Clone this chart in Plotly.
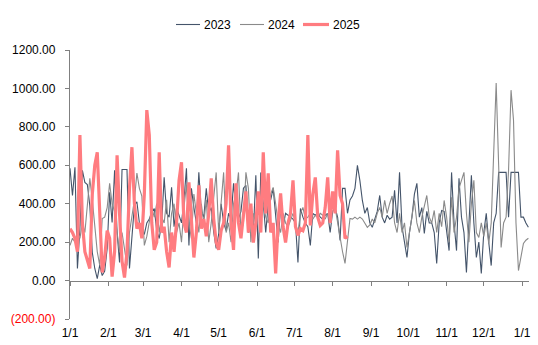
import plotly.graph_objects as go

STEP_DAYS = 2

month_start_days = [0, 31, 59, 90, 120, 151, 181, 212, 243, 273, 304, 334, 365]
month_labels = ["1/1", "2/1", "3/1", "4/1", "5/1", "6/1", "7/1", "8/1", "9/1", "10/1", "11/1", "12/1", "1/1"]

y_ticks = [-200, 0, 200, 400, 600, 800, 1000, 1200]

v2023 = [
    584, 443, 590, 63, 271, 574, 511, 500, 390, 146,
    63, 10, 80, 26, 50, 167, 459, 302, 574, 250,
    94, 578, 578, 578, 63, 235, 391, 410, 300, 271,
    240, 300, 320, 355, 375, 260, 219, 300, 537, 350,
    330, 485, 280, 380, 340, 300, 420, 584, 183, 480,
    380, 300, 563, 360, 330, 480, 350, 380, 250, 167,
    240, 400, 300, 260, 350, 320, 506, 380, 320, 360,
    480, 496, 250, 330, 250, 548, 115, 563, 400, 250,
    400, 420, 480, 330, 198, 380, 280, 350, 340, 330,
    320, 300, 94, 375, 330, 300, 280, 183, 350, 340,
    350, 330, 320, 340, 350, 250, 360, 380, 330, 209,
    480, 480, 350, 420, 440, 480, 600, 520, 417, 350,
    380, 300, 277, 320, 360, 443, 330, 300, 340, 320,
    330, 470, 300, 563, 280, 200, 120, 250, 330, 450,
    506, 330, 380, 245, 360, 300, 300, 250, 89, 300,
    365, 360, 250, 156, 563, 300, 156, 532, 330, 250,
    42, 300, 548, 300, 120, 200, 37, 250, 350, 200,
    78, 300, 350, 563, 563, 563, 563, 330, 563, 563,
    563, 563, 330, 330, 300, 277,
]

v2024 = [
    183, 220, 200, 250, 220, 300, 250, 400, 532, 420,
    300, 150, 80, 323, 330, 380, 506, 400, 360, 250,
    146, 250, 160, 78, 250, 350, 420, 560, 480, 440,
    183, 230, 300, 380, 330, 400, 250, 330, 300, 420,
    200, 350, 400, 250, 300, 200, 380, 500, 300, 220,
    450, 350, 250, 400, 300, 420, 200, 300, 450, 563,
    250, 400, 563, 250, 300, 200, 400, 450, 563, 250,
    300, 563, 480, 200, 350, 300, 400, 300, 400, 330,
    300, 450, 485, 400, 300, 250, 350, 300, 280, 313,
    350, 300, 250, 350, 381, 320, 330, 350, 320, 340,
    330, 350, 340, 320, 350, 330, 360, 380, 300, 209,
    150, 89, 200, 323, 320, 330, 320, 330, 320, 300,
    277, 290, 320, 300, 350, 381, 330, 417, 350, 400,
    440, 300, 250, 350, 250, 300, 172, 250, 330, 417,
    300, 250, 330, 380, 443, 330, 300, 365, 250, 350,
    280, 417, 330, 200, 433, 250, 330, 480, 522, 563,
    350, 200, 400, 522, 250, 224, 300, 230, 300, 193,
    300, 642, 1028, 600, 172, 300, 330, 574, 991, 835,
    300, 52, 120, 193, 210, 220,
]

v2025 = [
    270, 250, 219, 150, 757, 300, 150, 110, 63, 450,
    600, 668, 350, 42, 120, 260, 220, 21, 150, 652,
    350, 100, 16, 150, 480, 694, 400, 270, 300, 220,
    450, 887, 757, 300, 160, 200, 668, 250, 280, 150,
    68, 250, 150, 300, 520, 616, 300, 250, 511, 300,
    120, 250, 496, 270, 320, 230, 350, 532, 320, 198,
    160, 260, 300, 400, 704, 300, 160, 506, 300, 220,
    330, 464, 250, 400, 198, 300, 464, 250, 668, 350,
    558, 250, 300, 37, 300, 454, 280, 198, 300, 350,
    522, 280, 235, 270, 260, 300, 757, 287, 450, 537,
    330, 287, 300, 380, 537, 300, 464, 350, 678, 443,
    400, 220, 230,
]

series = [
    ("2023", v2023, "#44546A", 1.1),
    ("2024", v2024, "#8A8A8A", 1.1),
    ("2025", v2025, "#FF7C80", 3.2),
]

FONT = "Liberation Sans, Arial, sans-serif"

W, H = 538, 345
ML, MR, MT, MB = 70, 9, 50, 26
PW, PH = W - ML - MR, H - MT - MB

fig = go.Figure()
for name, vals, color, width in series:
    fig.add_trace(go.Scatter(
        x=[STEP_DAYS * i for i in range(len(vals))],
        y=vals,
        mode="lines",
        name=name,
        line=dict(color=color, width=width),
        showlegend=False,
    ))

# helper trace so the zero-line axis (xaxis2) is drawn
fig.add_trace(go.Scatter(x=[0], y=[None], xaxis="x2", showlegend=False,
                         hoverinfo="skip", mode="lines"))

# legend drawn as layout decoration (pixel positions -> paper coords)
def px_x(px):
    return (px - ML) / PW

def px_y(py):
    return (H - MB - py) / PH

legend_line_starts = [176, 240, 303]
legend_line_len = 24
legend_y = 24.5
for (name, _, color, width), lx in zip(series, legend_line_starts):
    fig.add_shape(type="line", xref="paper", yref="paper",
                  x0=px_x(lx), x1=px_x(lx + legend_line_len + (2 if width > 2 else 0)),
                  y0=px_y(legend_y), y1=px_y(legend_y),
                  line=dict(color=color, width=width))
    fig.add_annotation(xref="paper", yref="paper",
                       x=px_x(lx + legend_line_len + (2 if width > 2 else 0) + 2),
                       y=px_y(legend_y), text=name, showarrow=False,
                       xanchor="left", yanchor="middle",
                       font=dict(family=FONT, size=12, color="black"))

def fmt(v):
    if v < 0:
        return "<span style='color:#FF0000'>(%.2f)</span>" % abs(v)
    return "%.2f" % v

x_range = [0, 370.5]

fig.update_layout(
    width=W, height=H,
    margin=dict(l=ML, r=MR, t=MT, b=MB, autoexpand=False),
    paper_bgcolor="white", plot_bgcolor="white",
    font=dict(family=FONT, size=12, color="black"),
    showlegend=False,
    xaxis=dict(
        range=x_range, tickmode="array", tickvals=month_start_days,
        ticktext=month_labels, showline=False, ticks="", showgrid=False,
        zeroline=False, ticklabelstandoff=5,
        tickfont=dict(family=FONT, size=12, color="black"),
    ),
    xaxis2=dict(
        range=x_range, overlaying="x", anchor="free",
        position=200 / 1400, side="bottom",
        tickmode="array", tickvals=month_start_days,
        showline=True, linecolor="#808080", linewidth=1.3,
        ticks="outside", ticklen=4, tickcolor="#808080", tickwidth=1.3,
        showticklabels=False, showgrid=False, zeroline=False,
    ),
    yaxis=dict(
        range=[-200, 1200], tickmode="array", tickvals=y_ticks,
        ticktext=[fmt(v) for v in y_ticks],
        showline=True, linecolor="#808080", linewidth=1.3,
        ticks="outside", ticklen=4, tickcolor="#808080", tickwidth=1.3,
        showgrid=False, zeroline=False, ticklabelstandoff=7,
        tickfont=dict(family=FONT, size=12, color="black"),
    ),
)

fig.write_html("out.html")
